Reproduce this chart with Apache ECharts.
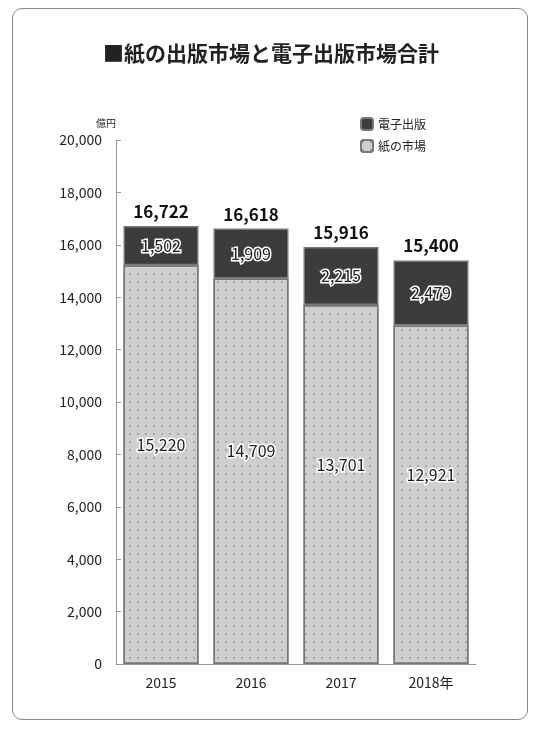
<!DOCTYPE html>
<html><head><meta charset="utf-8">
<script src="https://cdn.jsdelivr.net/npm/echarts@6/dist/echarts.min.js"></script>
<style>
body{margin:0;background:#fff}
#frame{position:absolute;left:12px;top:8px;width:514px;height:710px;border:1.5px solid #888;border-radius:10px}
#c{position:absolute;left:0;top:0;width:542px;height:730px}
</style></head><body>
<div id="frame"></div><div id="c"></div>
<script>
var years = ['2015', '2016', '2017', '2018年'];
var paper = [15220, 14709, 13701, 12921];
var digital = [1502, 1909, 2215, 2479];
var totals = [16722, 16618, 15916, 15400];

var fmt = function (v) { return v.toLocaleString('en-US'); };
var font = '"Noto Sans CJK JP", "Noto Sans", sans-serif';
var chart = echarts.init(document.getElementById('c'));
chart.setOption({
    animation: false,
    textStyle: { fontFamily: font },
    title: {
        text: '■紙の出版市場と電子出版市場合計', left: 'center', top: 38,
        textStyle: { fontSize: 21, fontWeight: 'bold', color: '#222', fontFamily: font }
    },
    legend: {
        left: 355, top: 112, orient: 'vertical', itemWidth: 12, itemHeight: 12, itemGap: 8,
        textStyle: { fontSize: 12, color: '#222' },
        data: ['電子出版', '紙の市場']
    },
    grid: { left: 116, right: 66, top: 140, bottom: 66 },
    xAxis: {
        type: 'category', data: years,
        axisLine: { lineStyle: { color: '#999' } }, axisTick: { show: false },
        axisLabel: { color: '#222', fontSize: 14, margin: 12 }
    },
    yAxis: {
        type: 'value', min: 0, max: 20000, interval: 2000,
        name: '億円', nameGap: 12, nameTextStyle: { fontSize: 10, color: '#222', align: 'right' },
        axisLine: { show: true, lineStyle: { color: '#999' } },
        axisTick: { show: true, length: 5, inside: true, lineStyle: { color: '#999' } },
        splitLine: { show: false },
        axisLabel: { color: '#222', fontSize: 14, margin: 14, formatter: fmt }
    },
    series: [{
        name: '紙の市場', type: 'bar', stack: 't', barWidth: 75, data: paper,
        itemStyle: {
            color: '#cfcfcf', borderColor: '#777', borderWidth: 1.5,
            decal: { symbol: 'circle', symbolSize: 0.5, color: '#9a9a9a', dashArrayX: 4, dashArrayY: 4 }
        },
        label: {
            show: true, position: 'inside', offset: [0, -20], formatter: function (p) { return fmt(p.value); },
            fontSize: 16, color: '#222', textBorderColor: '#fff', textBorderWidth: 3
        }
    }, {
        name: '電子出版', type: 'bar', stack: 't', data: digital,
        itemStyle: { color: '#3c3c3c', borderColor: '#777', borderWidth: 1.5 },
        label: {
            show: true, position: 'inside', formatter: function (p) { return fmt(p.value); },
            fontSize: 16, color: '#222', textBorderColor: '#fff', textBorderWidth: 3
        }
    }, {
        name: '合計', type: 'bar', stack: 't', data: totals.map(function () { return 0; }),
        itemStyle: { color: 'transparent' },
        label: {
            show: true, position: 'top', distance: 6,
            formatter: function (p) { return fmt(totals[p.dataIndex]); },
            fontSize: 17, fontWeight: 'bold', color: '#111'
        }
    }]
});
</script></body></html>
